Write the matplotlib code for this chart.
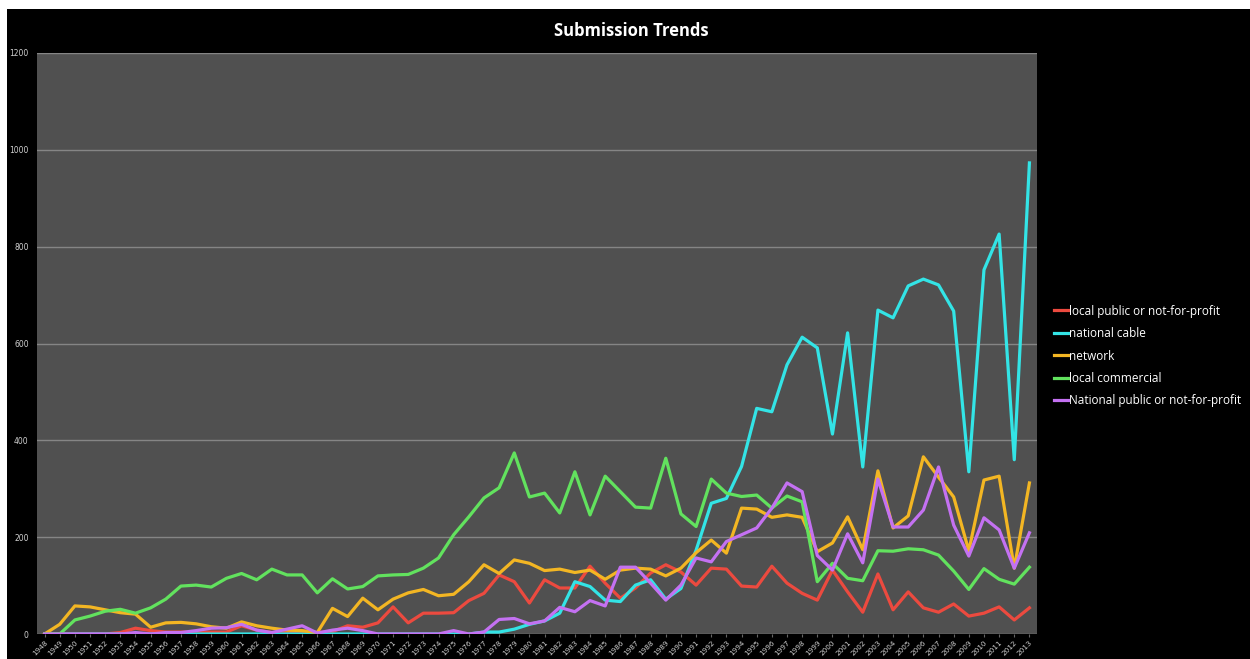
import matplotlib.pyplot as plt
import numpy as np
from matplotlib.patches import Rectangle

# годы по оси X
years = list(range(1948, 2014))

# значения рядов
local_public = [0, 0, 0, 0, 0, 3, 12, 7, 4, 4, 4, 4, 4, 17, 8, 3,
                3, 3, 3, 5, 17, 14, 23, 56, 23, 43, 43, 44, 69, 84, 122, 108,
                64, 112, 95, 95, 140, 105, 74, 95, 126, 143, 128, 101, 136, 134, 99, 97,
                140, 105, 84, 70, 132, 87, 45, 124, 50, 87, 54, 45, 62, 37, 43, 56,
                29, 54]
national_cable = [0, 0, 0, 0, 0, 0, 0, 0, 0, 0, 0, 0, 0, 0, 0, 0,
                  0, 0, 0, 0, 0, 0, 0, 0, 0, 0, 0, 0, 0, 4, 4, 10,
                  20, 27, 43, 108, 98, 70, 67, 101, 112, 72, 94, 173, 270, 280, 346, 466,
                  459, 556, 613, 591, 413, 622, 345, 669, 653, 719, 733, 721, 667, 335, 752, 826,
                  360, 973]
network = [0, 20, 58, 56, 50, 44, 41, 14, 23, 24, 21, 15, 12, 25, 17, 12,
           8, 7, 3, 53, 36, 74, 50, 72, 85, 92, 79, 82, 108, 143, 125, 153,
           146, 131, 134, 127, 132, 113, 132, 136, 134, 120, 136, 168, 194, 167, 260, 258,
           241, 246, 241, 170, 188, 242, 174, 337, 219, 244, 366, 324, 283, 172, 318, 326,
           136, 312]
local_commercial = [0, 0, 29, 37, 47, 51, 43, 54, 72, 99, 101, 97, 115, 125, 112, 134,
                    122, 122, 85, 114, 93, 98, 120, 122, 123, 136, 157, 205, 242, 281, 302, 374,
                    283, 291, 250, 335, 246, 326, 294, 262, 260, 363, 248, 222, 320, 291, 284, 287,
                    260, 285, 273, 108, 146, 115, 110, 172, 171, 176, 174, 163, 130, 92, 135, 113,
                    103, 138]
national_public = [0, 0, 0, 0, 0, 0, 3, 0, 3, 3, 7, 12, 13, 20, 8, 3,
                   10, 17, 2, 8, 12, 7, 0, 0, 0, 0, 0, 7, 0, 4, 30, 32,
                   21, 27, 55, 46, 69, 58, 138, 138, 105, 70, 101, 157, 149, 191, 205, 219,
                   260, 312, 294, 162, 132, 207, 147, 320, 221, 221, 256, 345, 225, 161, 240, 215,
                   136, 209]

series = [
    ("local public or not-for-profit", local_public, "#ec4a3f"),
    ("national cable", national_cable, "#33e4e6"),
    ("network", network, "#f3b623"),
    ("local commercial", local_commercial, "#62e25e"),
    ("National public or not-for-profit", national_public, "#c471f2"),
]

fig = plt.figure(figsize=(12.5, 6.59), dpi=100, facecolor="white")
# чёрный фон под графиком (с белой полоской сверху и слева)
fig.patches.append(Rectangle((7 / 1250, -0.05), 1.1, 1.05 - 9 / 659,
                             transform=fig.transFigure, facecolor="black",
                             edgecolor="none", zorder=-1))

ax = fig.add_axes([37 / 1250, 1 - 634 / 659, 1000 / 1250, 581 / 659])
ax.set_facecolor("#505050")

x = np.arange(len(years))
for name, vals, col in series:
    ax.plot(x, vals, color=col, linewidth=2.3, label=name)

ax.set_xlim(-0.5, len(years) - 0.5)
ax.set_ylim(0, 1200)
ax.set_yticks(range(0, 1201, 200))
ax.yaxis.grid(True, color="#858585", linewidth=1.0)
ax.set_axisbelow(True)

ax.set_xticks(x)
ax.set_xticklabels([str(y) for y in years], rotation=45, ha="right",
                   rotation_mode="anchor", fontsize=5.2, color="#d0d0d0")
ax.tick_params(axis="y", labelsize=5.5, colors="#d0d0d0", length=0, pad=6)
ax.tick_params(axis="x", length=2, color="#666666", pad=2)
for s in ax.spines.values():
    s.set_visible(False)

fig.text(0.505, 1 - 31 / 659, "Submission Trends", ha="center", va="center",
         color="white", fontsize=12, fontweight="bold", family="Open Sans")

leg = fig.legend(loc="center left", bbox_to_anchor=(1043 / 1250, 1 - 356 / 659),
                 frameon=False, labelcolor="white",
                 handlelength=1.2, handletextpad=0.1, labelspacing=0.8,
                 prop={"family": "Open Sans", "size": 8.5})

fig.savefig("out.png", dpi=100, facecolor=fig.get_facecolor())
